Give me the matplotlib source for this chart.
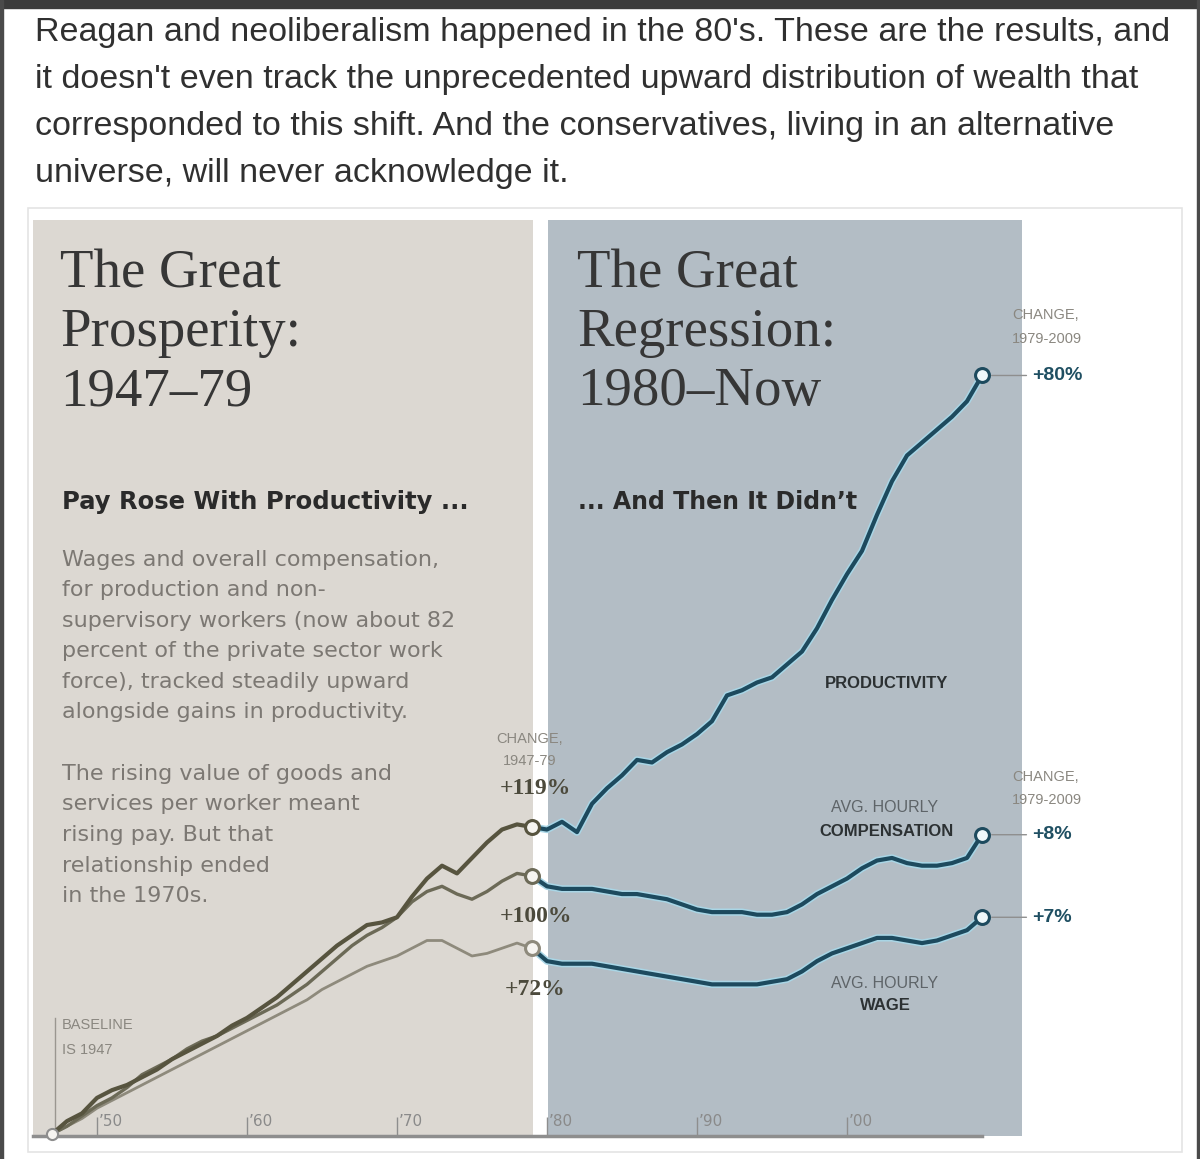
import numpy as np
import matplotlib
matplotlib.use("Agg")
import matplotlib.pyplot as plt
import matplotlib.patheffects as pe
from matplotlib.patches import Rectangle

# ---------------- data (percent change since 1947) ----------------
years_pre = list(range(1947, 1980))
productivity_pre = [0, 5, 8, 14, 17, 19, 22, 25, 29, 32, 35, 38, 42, 45, 49, 53, 58,
                    63, 68, 73, 77, 81, 82, 84, 92, 99, 104, 101, 107, 113, 118, 120, 119]
compensation_pre = [0, 3, 7, 11, 14, 18, 23, 26, 29, 33, 36, 38, 41, 44, 47, 50, 54,
                    58, 63, 68, 73, 77, 80, 84, 90, 94, 96, 93, 91, 94, 98, 101, 100]
wage_pre = [0, 3, 6, 10, 13, 16, 19, 22, 25, 28, 31, 34, 37, 40, 43, 46, 49,
            52, 56, 59, 62, 65, 67, 69, 72, 75, 75, 72, 69, 70, 72, 74, 72]

years_post = list(range(1979, 2010))
productivity_post = [119, 118, 121, 117, 128, 134, 139, 145, 144, 148, 151, 155, 160, 170,
                     172, 175, 177, 182, 187, 196, 207, 217, 226, 240, 253, 263, 268,
                     273, 278, 284, 294]
compensation_post = [100, 96, 95, 95, 95, 94, 93, 93, 92, 91, 89, 87, 86, 86, 86, 85, 85,
                     86, 89, 93, 96, 99, 103, 106, 107, 105, 104, 104, 105, 107, 116]
wage_post = [72, 67, 66, 66, 66, 65, 64, 63, 62, 61, 60, 59, 58, 58, 58, 58, 59, 60, 63,
             67, 70, 72, 74, 76, 76, 75, 74, 75, 77, 79, 84]

change_pre_labels = ["+119%", "+100%", "+72%"]
change_post_labels = ["+80%", "+8%", "+7%"]
tick_years = [1950, 1960, 1970, 1980, 1990, 2000]
tick_labels = ["\u201950", "\u201960", "\u201970", "\u201980", "\u201990", "\u201900"]

post_text = ("Reagan and neoliberalism happened in the 80's. These are the results, and",
             "it doesn't even track the unprecedented upward distribution of wealth that",
             "corresponded to this shift. And the conservatives, living in an alternative",
             "universe, will never acknowledge it.")
para1 = ["Wages and overall compensation,", "for production and non-",
         "supervisory workers (now about 82", "percent of the private sector work",
         "force), tracked steadily upward", "alongside gains in productivity."]
para2 = ["The rising value of goods and", "services per worker meant",
         "rising pay. But that", "relationship ended", "in the 1970s."]

# ---------------- figure ----------------
W, H = 1200, 1159
fig = plt.figure(figsize=(W / 100, H / 100), dpi=100)
fig.patch.set_facecolor("white")


def P(x, y):
    return x / W, 1 - y / H


# page frame
fig.patches.append(Rectangle((0, 1 - 8 / H), 1, 8 / H, transform=fig.transFigure,
                             color="#3b3b3b", zorder=0))
fig.patches.append(Rectangle((0, 0), 3 / W, 1, transform=fig.transFigure,
                             color="#4a4a4a", zorder=0))
fig.patches.append(Rectangle((1 - 3 / W, 0), 3 / W, 1, transform=fig.transFigure,
                             color="#4a4a4a", zorder=0))
fig.patches.append(Rectangle(P(28, 1152), 1154 / W, 944 / H, transform=fig.transFigure,
                             facecolor="none", edgecolor="#e4e4e4", lw=1.2, zorder=0))

# post text
for i, line in enumerate(post_text):
    fig.text(*P(35, 41 + i * 47), line, fontsize=24.5, family="Liberation Sans",
             color="#303030", va="baseline", ha="left")

# ---------------- chart axes ----------------
x0, x1, ytop, ybot = 33, 1180, 220, 1136
ax = fig.add_axes([x0 / W, 1 - ybot / H, (x1 - x0) / W, (ybot - ytop) / H])
px_per_year = 15.0
px_per_pct = 2.58
zero_px = 1134
ax.set_xlim(1947 + (x0 - 52) / px_per_year, 1947 + (x1 - 52) / px_per_year)
ax.set_ylim((zero_px - ybot) / px_per_pct, (zero_px - ytop) / px_per_pct)
ax.set_facecolor("white")
for s in ["top", "left", "right"]:
    ax.spines[s].set_visible(False)
ax.spines["bottom"].set_color("#8e8e8e")
ax.spines["bottom"].set_linewidth(2.5)
ax.spines["bottom"].set_bounds(ax.get_xlim()[0], 2009)
ax.set_yticks([])

# panels
ax.axvspan(ax.get_xlim()[0], 1979.07, color="#dcd8d2", zorder=0, lw=0)
ax.axvspan(1980.07, 2011.67, color="#b3bdc5", zorder=0, lw=0)

# ticks
ax.set_xticks(tick_years)
ax.set_xticklabels([])
ax.tick_params(axis="x", direction="in", length=14, width=1, color="#8e8e8e")
for yr, lab in zip(tick_years, tick_labels):
    ax.annotate(lab, xy=(yr, 0), xytext=(2, 12), textcoords="offset pixels",
                fontsize=11, color="#8a8a8a", family="DejaVu Sans",
                ha="left", va="center")

# pre-1979 lines (olive)
ax.plot(years_pre, wage_pre, color="#8e8a7c", lw=2.0, zorder=3, solid_capstyle="round")
ax.plot(years_pre, compensation_pre, color="#6c6a57", lw=2.4, zorder=4, solid_capstyle="round")
ax.plot(years_pre, productivity_pre, color="#57543f", lw=3.0, zorder=5, solid_capstyle="round")

# post-1979 lines (teal with light halo)
halo = [pe.Stroke(linewidth=5.2, foreground="#a9d6e6"), pe.Normal()]
for series in (productivity_post, compensation_post, wage_post):
    ax.plot(years_post, series, color="#1d4a5e", lw=3.0, zorder=6,
            path_effects=halo, solid_capstyle="round")

# end markers 1979
pre_ends = [productivity_pre[-1], compensation_pre[-1], wage_pre[-1]]
pre_colors = ["#57543f", "#6c6a57", "#8e8a7c"]
for v, c in zip(pre_ends, pre_colors):
    ax.plot([years_pre[-1]], [v], "o", ms=10, mfc="#f6f4f0", mec=c, mew=2.2, zorder=8)

# start marker 1947
ax.plot([years_pre[0]], [productivity_pre[0]], "o", ms=8, mfc="#f6f4f0",
        mec="#8e8e8e", mew=1.5, zorder=8, clip_on=False)

# end markers 2009
post_ends = [productivity_post[-1], compensation_post[-1], wage_post[-1]]
for v in post_ends:
    ax.plot([years_post[-1]], [v], "o", ms=10, mfc="#eef7fa", mec="#1d4a5e", mew=2.2, zorder=8)

# labels at 1979
lab_kw = dict(textcoords="offset pixels", family="Liberation Serif", fontweight="bold",
              fontsize=17, color="#4c4a3c", ha="center", va="center", zorder=9)
ax.annotate(change_pre_labels[0], xy=(1979, pre_ends[0]), xytext=(3, 38), **lab_kw)
ax.annotate(change_pre_labels[1], xy=(1979, pre_ends[1]), xytext=(4, -41), **lab_kw)
ax.annotate(change_pre_labels[2], xy=(1979, pre_ends[2]), xytext=(3, -41), **lab_kw)
small_kw = dict(textcoords="offset pixels", family="Liberation Sans", fontsize=10.5,
                color="#8a8780", ha="center", va="center", zorder=9)
ax.annotate("CHANGE,", xy=(1979, pre_ends[0]), xytext=(-2, 88), **small_kw)
ax.annotate("1947-79", xy=(1979, pre_ends[0]), xytext=(-2, 66), **small_kw)

# labels at 2009
rlab_kw = dict(textcoords="offset pixels", family="Liberation Sans", fontweight="bold",
               fontsize=14, color="#1f4f62", ha="left", va="center", zorder=9,
               arrowprops=dict(arrowstyle="-", color="#8e8e8e", lw=1.0,
                               shrinkA=2, shrinkB=7))
for v, lab in zip(post_ends, change_post_labels):
    ax.annotate(lab, xy=(2009, v), xytext=(50, 0), **rlab_kw)
small_kw_r = dict(small_kw, ha="left")
ax.annotate("CHANGE,", xy=(2009, post_ends[0]), xytext=(30, 60), **small_kw_r)
ax.annotate("1979-2009", xy=(2009, post_ends[0]), xytext=(30, 36), **small_kw_r)
ax.annotate("CHANGE,", xy=(2009, post_ends[1]), xytext=(30, 58), **small_kw_r)
ax.annotate("1979-2009", xy=(2009, post_ends[1]), xytext=(30, 35), **small_kw_r)

# baseline note
ax.axvline(1947.2, ymin=0.0, ymax=(1133 - 1015) / (ybot - ytop), color="#9a9690", lw=1.0, zorder=2)
fig.text(*P(62, 1025), "BASELINE", fontsize=10.5, family="Liberation Sans",
         color="#8a8780", va="center")
fig.text(*P(62, 1050), "IS 1947", fontsize=10.5, family="Liberation Sans",
         color="#8a8780", va="center")

# series labels
fig.text(*P(887, 683), "PRODUCTIVITY", fontsize=12, family="Liberation Sans",
         fontweight="bold", color="#2c3133", ha="center", va="center")
fig.text(*P(885, 808), "AVG. HOURLY", fontsize=11.5, family="Liberation Sans",
         color="#5e6468", ha="center", va="center")
fig.text(*P(886, 831), "COMPENSATION", fontsize=12, family="Liberation Sans",
         fontweight="bold", color="#2c3133", ha="center", va="center")
fig.text(*P(885, 983), "AVG. HOURLY", fontsize=11.5, family="Liberation Sans",
         color="#5e6468", ha="center", va="center")
fig.text(*P(885, 1005), "WAGE", fontsize=12, family="Liberation Sans",
         fontweight="bold", color="#2c3133", ha="center", va="center")

# panel titles
title_kw = dict(fontsize=39.5, family="Liberation Serif", color="#363636", va="baseline")
for i, line in enumerate(["The Great", "Prosperity:", "1947\u201379"]):
    fig.text(*P(60, 287 + i * 59), line, **title_kw)
for i, line in enumerate(["The Great", "Regression:", "1980\u2013Now"]):
    fig.text(*P(577, 287 + i * 59), line, **title_kw)

fig.text(*P(62, 502), "Pay Rose With Productivity ...", fontsize=17.5, family="DejaVu Sans",
         fontweight="bold", color="#2a2a2a", va="center")
fig.text(*P(578, 502), "... And Then It Didn\u2019t", fontsize=17, family="DejaVu Sans",
         fontweight="bold", color="#2a2a2a", va="center")

for i, line in enumerate(para1):
    fig.text(*P(62, 560 + i * 30.4), line, fontsize=16, family="DejaVu Sans",
             color="#7c7873", va="center")
for i, line in enumerate(para2):
    fig.text(*P(62, 774 + i * 30.5), line, fontsize=16, family="DejaVu Sans",
             color="#7c7873", va="center")

fig.savefig("out.png", dpi=100, facecolor="white")
